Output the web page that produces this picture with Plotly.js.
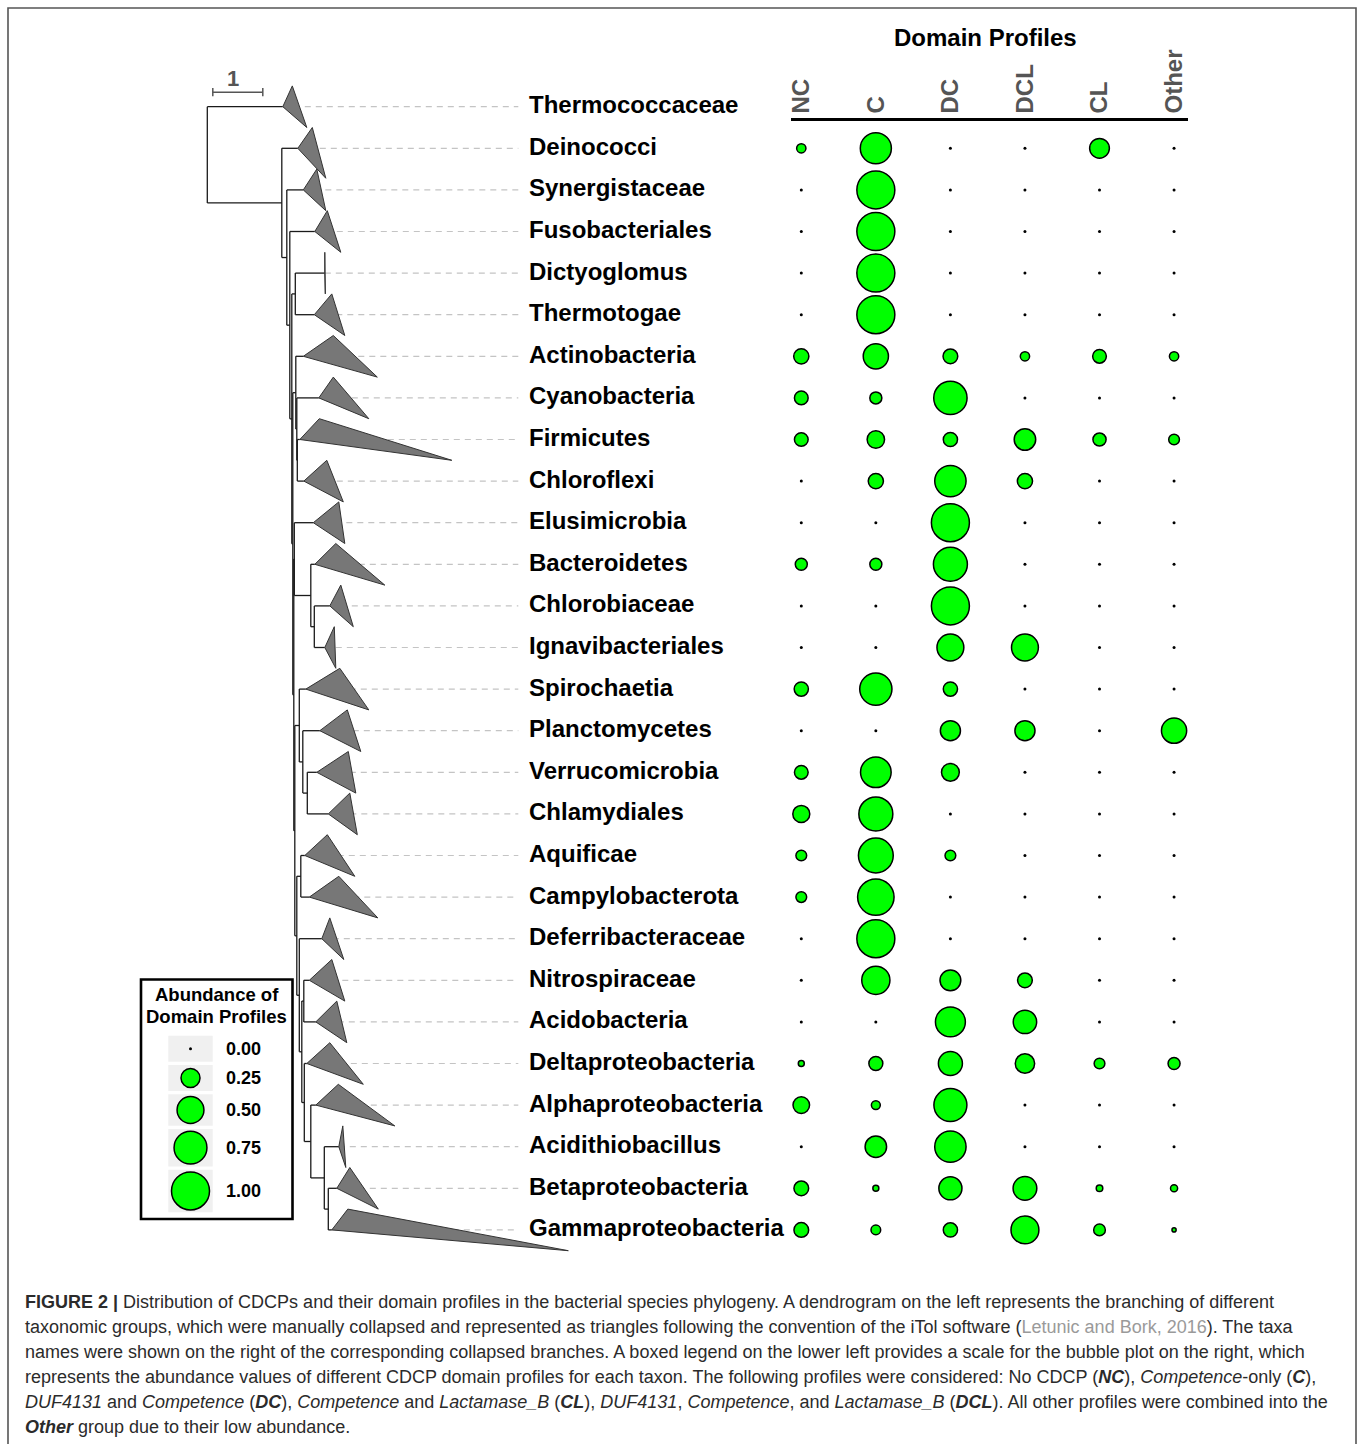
<!DOCTYPE html>
<html>
<head>
<meta charset="utf-8">
<script src="https://cdn.plot.ly/plotly-3.0.1.min.js"></script>
<style>
  html, body { margin: 0; padding: 0; background: #ffffff; }
  #chart { width: 1358px; height: 1444px; }
</style>
</head>
<body>
<div id="chart"></div>
<script>
// ---- taxa, top to bottom (Thermococcaceae is the archaeal outgroup, no profile data) ----
const taxa = [
  'Thermococcaceae', 'Deinococci', 'Synergistaceae', 'Fusobacteriales', 'Dictyoglomus',
  'Thermotogae', 'Actinobacteria', 'Cyanobacteria', 'Firmicutes', 'Chloroflexi',
  'Elusimicrobia', 'Bacteroidetes', 'Chlorobiaceae', 'Ignavibacteriales', 'Spirochaetia',
  'Planctomycetes', 'Verrucomicrobia', 'Chlamydiales', 'Aquificae', 'Campylobacterota',
  'Deferribacteraceae', 'Nitrospiraceae', 'Acidobacteria', 'Deltaproteobacteria',
  'Alphaproteobacteria', 'Acidithiobacillus', 'Betaproteobacteria', 'Gammaproteobacteria'
];

// ---- domain profiles ----
const profiles = ['NC', 'C', 'DC', 'DCL', 'CL', 'Other'];

// relative abundance of each domain profile per taxon (rows sum to 1)
const NC    = [null, 0.06, 0, 0, 0, 0, 0.16, 0.13, 0.13, 0, 0, 0.10, 0, 0, 0.14, 0, 0.13, 0.20, 0.08, 0.08, 0, 0, 0, 0.025, 0.19, 0, 0.15, 0.15];
const C     = [null, 0.67, 1, 1, 1, 1, 0.44, 0.10, 0.21, 0.16, 0, 0.10, 0, 0, 0.72, 0, 0.65, 0.80, 0.84, 0.92, 1, 0.55, 0, 0.135, 0.055, 0.32, 0.025, 0.065];
const DC    = [null, 0, 0, 0, 0, 0, 0.15, 0.77, 0.14, 0.68, 1, 0.80, 1, 0.50, 0.14, 0.28, 0.22, 0, 0.08, 0, 0, 0.30, 0.62, 0.40, 0.755, 0.68, 0.37, 0.14];
const DCL   = [null, 0, 0, 0, 0, 0, 0.06, 0, 0.32, 0.16, 0, 0, 0, 0.50, 0, 0.28, 0, 0, 0, 0, 0, 0.15, 0.38, 0.26, 0, 0, 0.39, 0.54];
const CL    = [null, 0.27, 0, 0, 0, 0, 0.13, 0, 0.12, 0, 0, 0, 0, 0, 0, 0, 0, 0, 0, 0, 0, 0, 0, 0.08, 0, 0, 0.03, 0.095];
const Other = [null, 0, 0, 0, 0, 0, 0.06, 0, 0.08, 0, 0, 0, 0, 0, 0, 0.44, 0, 0, 0, 0, 0, 0, 0, 0.10, 0, 0, 0.035, 0.012];

// legend scale values
const legendValues = [0.00, 0.25, 0.50, 0.75, 1.00];
const legendLabels = ['0.00', '0.25', '0.50', '0.75', '1.00'];

// ---- collapsed clades (depth from root, substitutions/site) ----
// cladeNode: where the branch meets the clade; cladeMin / cladeMax: nearest / farthest leaf
const cladeNode = [1.51, 1.81, 1.92, 2.15, 2.35, 2.14, 1.92, 2.23, 1.85, 1.93, 2.12, 2.15, 2.45, 2.35,
                   1.97, 2.25, 2.19, 2.42, 1.95, 2.04, 2.29, 2.04, 2.17, 1.99, 2.17, 2.63, 2.59, 2.49];
const cladeMin  = [1.70, 2.10, 2.19, 2.40, 2.35, 2.49, 2.52, 2.52, 2.24, 2.39, 2.63, 2.57, 2.67, 2.54,
                   2.65, 2.80, 2.82, 2.85, 2.40, 2.63, 2.45, 2.49, 2.59, 2.45, 2.62, 2.71, 2.85, 2.81];
const cladeMax  = [1.99, 2.37, 2.37, 2.67, 2.36, 2.75, 3.40, 3.23, 4.89, 2.72, 2.75, 3.55, 2.92, 2.57,
                   3.23, 3.07, 2.97, 3.00, 2.95, 3.41, 2.73, 2.75, 2.79, 3.12, 3.75, 2.77, 3.42, 7.22];
// rows spanned below each clade's node (above is half a row for all)
const cladeBelow = [0.5, 0.72, 0.5, 0.5, 0.5, 0.5, 0.5, 0.5, 0.5, 0.5, 0.5, 0.5, 0.5, 0.5,
                    0.5, 0.5, 0.5, 0.5, 0.5, 0.5, 0.5, 0.5, 0.5, 0.5, 0.5, 0.5, 0.5, 0.5];

// ---- topology: internal node = {d: depth, c: children}, leaves = taxon index ----
const N = (d, ...c) => ({ d, c });
const tree =
  N(0.00, 0,
    N(1.49, 1,
      N(1.59, 2,
        N(1.65, 3,
          N(1.69,
            N(1.76, 4, 5),
            N(1.71,
              N(1.77, 6, N(1.79, 7, N(1.80, 8, 9))),
              N(1.73,
                N(1.74, 10, N(2.07, 11, N(2.14, 12, 13))),
                N(1.75,
                  N(1.84, 14, N(1.91, 15, N(2.00, 16, 17))),
                  N(1.79,
                    N(1.87, 18, 19),
                    N(1.84, 20,
                      N(1.89,
                        N(1.93, 21, 22),
                        N(1.94, 23, N(2.07, 24, N(2.34, 25, N(2.42, 26, 27)))))))))))))));

const scaleBarLength = 1;       // substitutions per site
const leaderEnd = 6.22;         // where the dotted guides stop

// ---- page geometry ----
const W = 1358, H = 1444;
const FONT = 'Liberation Sans, Arial, Helvetica, sans-serif';
const px = x => x / W;
const py = y => 1 - y / H;

// tree coordinates -> rectangular branches
const bx = [], by = [];
function place(n) {
  if (typeof n === 'number') return { y: n, x: cladeNode[n] };
  const kids = n.c.map(place);
  const y0 = kids[0].y, y1 = kids[kids.length - 1].y;
  bx.push(n.d, n.d, null); by.push(y0, y1, null);
  kids.forEach(k => { bx.push(n.d, k.x, null); by.push(k.y, k.y, null); });
  return { y: (y0 + y1) / 2, x: n.d };
}
place(tree);

// collapsed clade triangles
const tx = [], ty = [];
taxa.forEach((t, i) => {
  tx.push(cladeNode[i], cladeMin[i], cladeMax[i], cladeNode[i], null);
  ty.push(i, i - 0.5, i + cladeBelow[i], i, null);
});

// dotted guides from clade to label
const gx = [], gy = [];
taxa.forEach((t, i) => { gx.push(cladeNode[i], leaderEnd, null); gy.push(i, i, null); });

// bubble grid
const series = { NC, C, DC, DCL, CL, Other };
const bubX = [], bubY = [], bubV = [], zeroX = [], zeroY = [];
profiles.forEach(p => {
  series[p].forEach((v, i) => {
    if (v === null) return;
    if (v > 0) { bubX.push(p); bubY.push(i); bubV.push(v); }
    else { zeroX.push(p); zeroY.push(i); }
  });
});

const MAXD = 38;                         // diameter of a 1.00 bubble, px
const SIZEREF = 2 * 1 / (MAXD * MAXD);   // plotly area-mode scaling for a max value of 1
const GREEN = '#00ff00';

// legend layout (pixel frame)
const legBoxX0 = 168.3, legBoxX1 = 212.7, legTop = 1035.7, legGap = 3.3;
const legCx = (legBoxX0 + legBoxX1) / 2;
const legY = [], legShapes = [];
let cursor = legTop;
legendValues.forEach(v => {
  const h = Math.max(26, MAXD * Math.sqrt(v) + 4.5);
  legShapes.push({ type: 'rect', xref: 'paper', yref: 'paper', x0: px(legBoxX0), x1: px(legBoxX1),
    y0: py(cursor), y1: py(cursor + h), fillcolor: '#f0f0f0', line: { width: 0 }, layer: 'below' });
  legY.push(cursor + h / 2);
  cursor += h + legGap;
});
const legNZx = [], legNZy = [], legNZv = [], legZx = [], legZy = [];
legendValues.forEach((v, k) => {
  if (v > 0) { legNZx.push(legCx); legNZy.push(legY[k]); legNZv.push(v); }
  else { legZx.push(legCx); legZy.push(legY[k]); }
});

const traces = [
  { type: 'scatter', mode: 'lines', x: gx, y: gy, xaxis: 'x', yaxis: 'y',
    line: { color: '#c4c4c4', width: 1.2, dash: '6px,5px' }, hoverinfo: 'skip' },
  { type: 'scatter', mode: 'lines', x: bx, y: by, xaxis: 'x', yaxis: 'y',
    line: { color: '#1a1a1a', width: 1.3 }, hoverinfo: 'skip' },
  { type: 'scatter', mode: 'lines', x: tx, y: ty, xaxis: 'x', yaxis: 'y', fill: 'toself',
    fillcolor: '#777777', line: { color: '#333333', width: 1 }, hoverinfo: 'skip' },
  // scale bar
  { type: 'scatter', mode: 'lines', xaxis: 'x', yaxis: 'y',
    x: [0.11, 0.11, null, 0.11, 0.11 + scaleBarLength, null, 0.11 + scaleBarLength, 0.11 + scaleBarLength],
    y: [-0.45, -0.25, null, -0.35, -0.35, null, -0.45, -0.25],
    line: { color: '#555555', width: 1.5 }, hoverinfo: 'skip' },
  // absent profiles
  { type: 'scatter', mode: 'markers', x: zeroX, y: zeroY, xaxis: 'x2', yaxis: 'y',
    marker: { size: 3, color: '#000000' }, hoverinfo: 'skip' },
  // bubbles
  { type: 'scatter', mode: 'markers', x: bubX, y: bubY, xaxis: 'x2', yaxis: 'y',
    marker: { size: bubV, sizemode: 'area', sizeref: SIZEREF, color: GREEN, opacity: 1,
              line: { color: '#000000', width: 1.5 } }, hoverinfo: 'skip' },
  // legend symbols
  { type: 'scatter', mode: 'markers', x: legZx, y: legZy, xaxis: 'x3', yaxis: 'y3',
    marker: { size: 3, color: '#000000', opacity: 1 }, hoverinfo: 'skip' },
  { type: 'scatter', mode: 'markers', x: legNZx, y: legNZy, xaxis: 'x3', yaxis: 'y3',
    marker: { size: legNZv, sizemode: 'area', sizeref: SIZEREF, color: GREEN, opacity: 1,
              line: { color: '#000000', width: 1.5 } }, hoverinfo: 'skip' }
];

const annotations = [];
const ann = (o) => annotations.push(Object.assign({ showarrow: false, xanchor: 'center', yanchor: 'middle' }, o));
// taxon names
taxa.forEach((t, i) => ann({
  xref: 'x', yref: 'y', x: 6.39, y: i, xanchor: 'left', yshift: 2,
  text: t, font: { family: FONT, size: 24, color: '#000000', weight: 'bold' }
}));
// scale bar label
ann({ xref: 'x', yref: 'y', x: 0.52, y: -0.68, text: '1',
  font: { family: FONT, size: 22, color: '#555555', weight: 'bold' } });
// bubble header
ann({ xref: 'paper', yref: 'paper', x: px(985.5), y: py(38),
  text: 'Domain Profiles', font: { family: FONT, size: 24, color: '#000000', weight: 'bold' } });
// legend title and labels
ann({ xref: 'paper', yref: 'paper', x: px(216.7), y: py(994),
  text: 'Abundance of', font: { family: FONT, size: 18.5, color: '#000000', weight: 'bold' } });
ann({ xref: 'paper', yref: 'paper', x: px(216.7), y: py(1016.7),
  text: 'Domain Profiles', font: { family: FONT, size: 18.5, color: '#000000', weight: 'bold' } });
legendLabels.forEach((lab, k) => ann({
  xref: 'paper', yref: 'paper', x: px(224), y: py(legY[k]), xanchor: 'left',
  text: lab, font: { family: FONT, size: 18, color: '#000000', weight: 'bold' }
}));

// caption
const captionLines = [
  '<b>FIGURE 2 |</b> Distribution of CDCPs and their domain profiles in the bacterial species phylogeny. A dendrogram on the left represents the branching of different',
  'taxonomic groups, which were manually collapsed and represented as triangles following the convention of the iTol software (<span style="color:#9a9a9a">Letunic and Bork, 2016</span>). The taxa',
  'names were shown on the right of the corresponding collapsed branches. A boxed legend on the lower left provides a scale for the bubble plot on the right, which',
  'represents the abundance values of different CDCP domain profiles for each taxon. The following profiles were considered: No CDCP (<b><i>NC</i></b>), <i>Competence</i>-only (<b><i>C</i></b>),',
  '<i>DUF4131</i> and <i>Competence</i> (<b><i>DC</i></b>), <i>Competence</i> and <i>Lactamase_B</i> (<b><i>CL</i></b>), <i>DUF4131</i>, <i>Competence</i>, and <i>Lactamase_B</i> (<b><i>DCL</i></b>). All other profiles were combined into the',
  '<b><i>Other</i></b> group due to their low abundance.'
];
const captionTop = 1302, captionStep = 25;
captionLines.forEach((line, k) => ann({
  xref: 'paper', yref: 'paper', x: px(23), y: py(captionTop + k * captionStep),
  xanchor: 'left', align: 'left',
  text: line, font: { family: FONT, size: 18, color: '#2b2b2b' }
}));

const shapes = [
  // figure frame
  { type: 'rect', xref: 'paper', yref: 'paper', x0: px(8), x1: px(1356), y0: py(8), y1: -0.02,
    line: { color: '#555555', width: 1.6 }, fillcolor: 'rgba(0,0,0,0)' },
  // legend box
  { type: 'rect', xref: 'paper', yref: 'paper', x0: px(141), x1: px(292.5), y0: py(979.5), y1: py(1219),
    line: { color: '#000000', width: 2.6 }, fillcolor: 'rgba(0,0,0,0)' },
  ...legShapes
];

const rowsTopPx = 106.7, rowStep = 41.6;
const layout = {
  width: W, height: H,
  margin: { l: 0, r: 0, t: 0, b: 0 },
  paper_bgcolor: '#ffffff', plot_bgcolor: 'rgba(0,0,0,0)',
  showlegend: false, hovermode: false,
  xaxis: { domain: [0, 1], range: [-207.3 / 50, (W - 207.3) / 50], visible: false, fixedrange: true },
  yaxis: { domain: [0, 1], range: [(H - rowsTopPx) / rowStep, -rowsTopPx / rowStep], visible: false, fixedrange: true },
  xaxis2: {
    type: 'category', categoryorder: 'array', categoryarray: profiles,
    domain: [px(791), px(1188.3)], range: [-0.138, 5.191],
    anchor: 'free', position: py(119.3), side: 'top',
    showline: true, linecolor: '#000000', linewidth: 2.2,
    showgrid: false, zeroline: false, ticks: '', tickangle: -90,
    tickfont: { family: FONT, size: 24, color: '#555555', weight: 'bold' },
    fixedrange: true
  },
  xaxis3: { overlaying: 'x', range: [0, W], visible: false, fixedrange: true },
  yaxis3: { overlaying: 'y', range: [H, 0], visible: false, fixedrange: true },
  annotations, shapes
};

Plotly.newPlot('chart', traces, layout, { staticPlot: true, displayModeBar: false });
</script>
</body>
</html>
